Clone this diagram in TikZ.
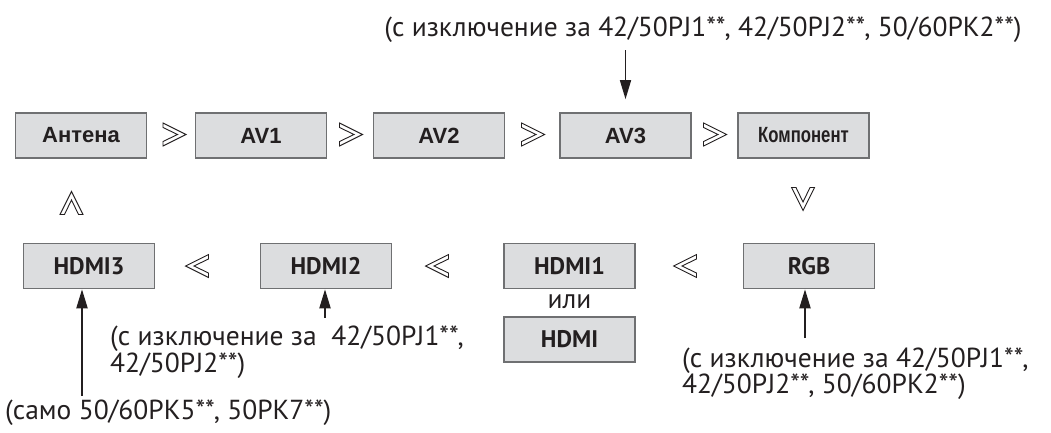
\documentclass[tikz,border=0pt]{standalone}
\usepackage{fontspec}
\setmainfont{PT Sans}
\newfontfamily\boxfont{Liberation Sans}
\usetikzlibrary{arrows.meta,positioning}
\definecolor{BoxFill}{HTML}{DCDDDF}
\definecolor{BoxRule}{HTML}{6F7072}
\definecolor{Ink}{HTML}{231F20}

\begin{document}
\begin{tikzpicture}[
  x=1pt,y=-1pt,
  src/.style={draw=BoxRule,fill=BoxFill,line width=1.6pt,
    minimum width=131pt,minimum height=45pt,inner sep=0pt,
    text=Ink,font=\boxfont\bfseries\fontsize{22}{24}\selectfont},
  srcb/.style={src,font=\bfseries\fontsize{24}{26}\selectfont},
  note/.style={text=Ink,inner sep=0pt,align=left,
    font=\fontsize{27.5}{26.5}\selectfont},
  pointer/.style={-{Triangle[length=19pt,width=11pt]},draw=Ink,line width=2pt},
  chevron/.pic={\draw[draw=Ink,line width=.9pt,fill=white]
    (-11.5,-11.5) -- (11.5,0) -- (-11.5,11.5) -- (-11.5,7) -- (3,0) -- (-11.5,-7) -- cycle;}
]
  \useasboundingbox (0,0) rectangle (1051,433);

  % upper row
  \node[src] (ant) at (81,135.5) {Антена};
  \node[src] (av1) at (261,135.5) {AV1};
  \node[src] (av2) at (439,135.5) {AV2};
  \node[src] (av3) at (625.5,135.5) {AV3};
  \node[src] (comp) at (803.5,135.5) {\scalebox{.76}[1]{Компонент}};

  % lower row
  \node[srcb] (hdmiiii) at (89,266) {HDMI3};
  \node[srcb] (hdmiii) at (326,266) {HDMI2};
  \node[srcb] (hdmii) at (569.5,266) {HDMI1};
  \node[srcb] (rgb) at (809,266) {RGB};
  \node[srcb] (hdmi) at (569.5,339.5) {HDMI};
  \node[note] (ili) at (569.5,302) {или};

  % order marks
  \pic at (174.5,134.5) {chevron};
  \pic at (351,134.5) {chevron};
  \pic at (533,134.5) {chevron};
  \pic at (715,134.5) {chevron};
  \pic[rotate=-90] at (803,199) {chevron};
  \pic[rotate=180] at (685,266) {chevron};
  \pic[rotate=180] at (437,266) {chevron};
  \pic[rotate=180] at (197,266) {chevron};
  \pic[rotate=90] at (71.5,203) {chevron};

  % notes
  \node[note,anchor=center] (topnote) at (703,30)
    {(с изключение за 42/50PJ1**, 42/50PJ2**, 50/60PK2**)};
  \node[note,anchor=west] (twonote) at (110,352)
    {(с изключение за \ 42/50PJ1**,\\42/50PJ2**)};
  \node[note,anchor=west] (rgbnote) at (682,373.5)
    {(с изключение за 42/50PJ1**,\\42/50PJ2**, 50/60PK2**)};
  \node[note,anchor=west] (onlynote) at (5,413)
    {(само 50/60PK5**, 50PK7**)};

  \draw[pointer,line width=1.6pt,shorten >=13pt]
    (av3.north |- topnote.south) ++(0,7) -- (av3.north);
  \draw[pointer] ([xshift=-7pt]hdmiiii.south |- onlynote.north) ++(0,-4) -- ([xshift=-7pt]hdmiiii.south);
  \draw[pointer] ([xshift=-1pt]hdmiii.south |- twonote.north) ++(0,-8) -- ([xshift=-1pt]hdmiii.south);
  \draw[pointer] ([xshift=-4pt]rgb.south |- rgbnote.north) ++(0,-9) -- ([xshift=-4pt]rgb.south);
\end{tikzpicture}
\end{document}
